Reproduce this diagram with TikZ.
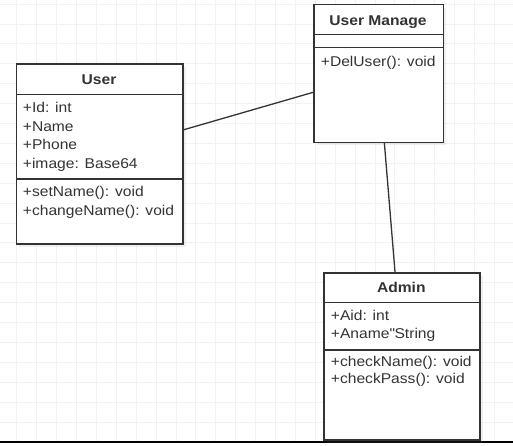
\documentclass[tikz,border=0pt]{standalone}
\usepackage{fontspec}
\setmainfont{Liberation Sans}[FakeStretch=1.1]
\usetikzlibrary{shadows}
\definecolor{umlgray}{HTML}{333333}
\definecolor{gridgray}{HTML}{F2F2F2}
\newcommand{\umlsize}{\fontsize{14.2pt}{17pt}\selectfont}
\tikzstyle{classbox}=[draw=umlgray,line width=1.3pt,fill=white,rectangle,anchor=north west,inner sep=0pt,
	drop shadow={shadow xshift=3pt,shadow yshift=-3pt,opacity=0.12}]
\tikzstyle{member}=[anchor=base west,inner sep=0pt,text=umlgray]
\tikzstyle{classname}=[anchor=base,inner sep=0pt,text=umlgray,font=\umlsize\bfseries]

\begin{document}
\begin{tikzpicture}[x=1pt, y=-1pt, font=\umlsize]
	\useasboundingbox (0,0) rectangle (513,445);
	%grid
	\foreach \k in {0,...,26}
	\draw[gridgray,line width=0.8pt] ({-3.2+19.9*\k},0) -- ++(0,441);
	\foreach \k in {0,...,21}
	\draw[gridgray,line width=0.8pt] (0,{4+19.9*\k}) -- ++(513,0);
	\draw[black,line width=2pt] (0,442) -- (513,442);
	%classes
	\node[classbox,minimum width=166.6pt,minimum height=180pt] (user) at (15.7,63.3) {};
	\node[classbox,minimum width=129.4pt,minimum height=137.7pt] (manage) at (313.3,4) {};
	\node[classbox,minimum width=156pt,minimum height=167pt] (admin) at (323.3,272.3) {};
	%compartments
	\draw[umlgray,line width=1.3pt]
	([yshift=-31pt]user.north west) -- ([yshift=-31pt]user.north east)
	([yshift=-115.7pt]user.north west) -- ([yshift=-115.7pt]user.north east)
	([yshift=-30.7pt]manage.north west) -- ([yshift=-30.7pt]manage.north east)
	([yshift=-43.3pt]manage.north west) -- ([yshift=-43.3pt]manage.north east)
	([yshift=-30.4pt]admin.north west) -- ([yshift=-30.4pt]admin.north east)
	([yshift=-77.7pt]admin.north west) -- ([yshift=-77.7pt]admin.north east);
	%names
	\node[classname] (user name) at (99,84.3) {User};
	\node[classname] (manage name) at (378,25) {User Manage};
	\node[classname] (admin name) at (401.3,292.3) {Admin};
	%members
	\foreach \t [count=\i] in {+Id: int,+Name,+Phone,+image: Base64}
	\node[member] (user attr \i) at (22.7,{112.3+18.7*(\i-1)}) {\t};
	\foreach \t [count=\i] in {+setName(): void,+changeName(): void}
	\node[member] (user op \i) at (22.7,{196.7+18.4*(\i-1)}) {\t};
	\node[member] (manage op 1) at (320.7,66) {+DelUser(): void};
	\foreach \t [count=\i] in {+Aid: int,+Aname\textquotedbl String}
	\node[member] (admin attr \i) at (330.7,{320.7+17.6*(\i-1)}) {\t};
	\foreach \t [count=\i] in {+checkName(): void,+checkPass(): void}
	\node[member] (admin op \i) at (330.7,{366+17.4*(\i-1)}) {\t};
	%associations
	\draw[umlgray,line width=1.3pt] (user) -- (manage);
	\draw[umlgray,line width=1.3pt] (manage) -- (admin);
\end{tikzpicture}
\end{document}
